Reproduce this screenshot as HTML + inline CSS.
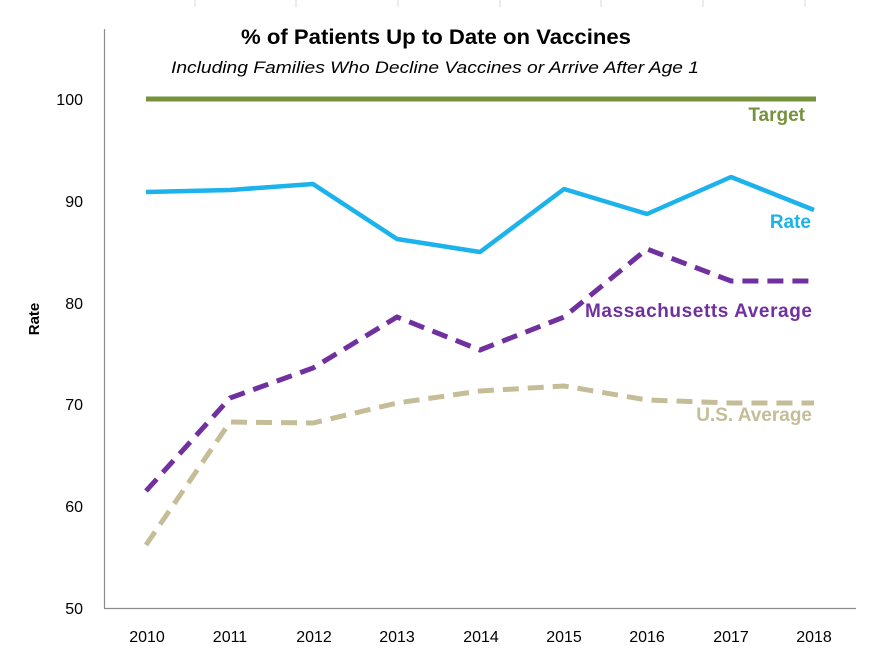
<!DOCTYPE html>
<html><head><style>
body{margin:0;background:#fff;}
svg{display:block;font-family:"Liberation Sans",sans-serif;}
</style></head><body>
<svg width="879" height="656" viewBox="0 0 879 656" xmlns="http://www.w3.org/2000/svg">
<g stroke="#d9d9d9" stroke-width="1">
<line x1="195" y1="0" x2="195" y2="7"/><line x1="296" y1="0" x2="296" y2="7"/><line x1="398" y1="0" x2="398" y2="7"/><line x1="500" y1="0" x2="500" y2="7"/><line x1="601" y1="0" x2="601" y2="7"/><line x1="703" y1="0" x2="703" y2="7"/><line x1="805" y1="0" x2="805" y2="7"/>
</g>
<line x1="104.5" y1="29" x2="104.5" y2="608" stroke="#8c8c8c" stroke-width="1.2"/>
<line x1="104" y1="608.5" x2="856" y2="608.5" stroke="#8c8c8c" stroke-width="1.2"/>
<text x="241" y="44" textLength="390" lengthAdjust="spacingAndGlyphs" font-size="21" font-weight="bold" fill="#000">% of Patients Up to Date on Vaccines</text>
<text x="171" y="73" textLength="528" lengthAdjust="spacingAndGlyphs" font-size="17" font-style="italic" fill="#000">Including Families Who Decline Vaccines or Arrive After Age 1</text>
<g font-size="16" fill="#000" text-anchor="end">
<text x="83" y="105">100</text><text x="83" y="207">90</text><text x="83" y="309">80</text><text x="83" y="410">70</text><text x="83" y="512">60</text><text x="83" y="614">50</text>
</g>
<g font-size="16" fill="#000" text-anchor="middle">
<text x="147" y="642">2010</text><text x="230" y="642">2011</text><text x="314" y="642">2012</text><text x="397" y="642">2013</text><text x="481" y="642">2014</text><text x="564" y="642">2015</text><text x="647" y="642">2016</text><text x="731" y="642">2017</text><text x="814" y="642">2018</text>
</g>
<text transform="translate(39,319) rotate(-90)" text-anchor="middle" font-size="15" font-weight="bold" fill="#000">Rate</text>
<line x1="146" y1="99" x2="816" y2="99" stroke="#76923c" stroke-width="5"/>
<polyline fill="none" stroke="#1cb2ec" stroke-width="4.5" stroke-linejoin="round" points="146,192 230,190 313,184 397,239 480,252 564,189 647,214 731,177 814,210"/>
<polyline fill="none" stroke="#7030a0" stroke-width="5" stroke-dasharray="16,9" points="146,491 230,398 313,368 397,317 480,350 564,317 647,249 731,281 814,281"/>
<polyline fill="none" stroke="#c4bd97" stroke-width="5" stroke-dasharray="16,9" points="146,545 230,422 313,423 397,403 480,391 564,386 647,400 731,403 814,403"/>
<g font-size="19" font-weight="bold" text-anchor="end">
<text x="805" y="121" fill="#76923c">Target</text>
<text x="811" y="228" fill="#1cb2ec">Rate</text>
<text x="812" y="317" fill="#7030a0" textLength="227" lengthAdjust="spacing">Massachusetts  Average</text>
<text x="812" y="421" fill="#c4bd97">U.S. Average</text>
</g>
</svg>
</body></html>
